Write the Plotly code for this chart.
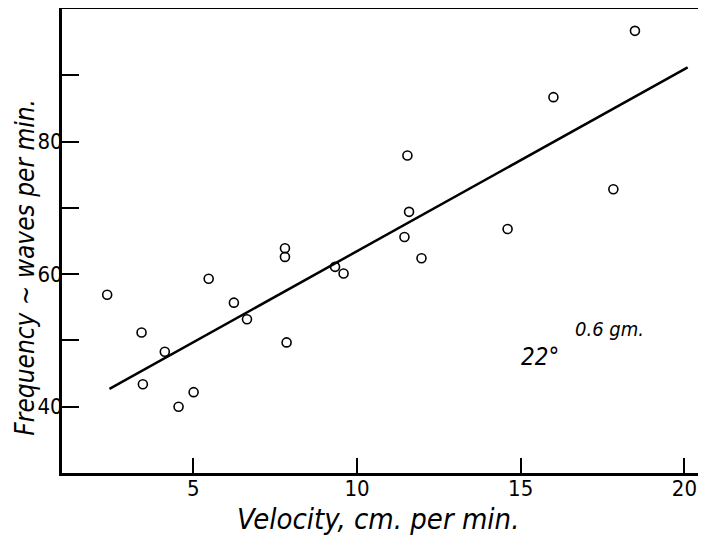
import plotly.graph_objects as go

# Observed points (velocity cm/min, frequency waves/min)
velocity = [2.37, 3.42, 3.46, 4.13, 4.55, 5.01, 5.47, 6.24, 6.64, 7.80, 7.80, 7.85,
            9.33, 9.59, 11.45, 11.54, 11.59, 11.97, 14.60, 16.0, 17.83, 18.49]
frequency = [56.9, 51.2, 43.4, 48.3, 40.0, 42.2, 59.3, 55.7, 53.2, 63.9, 62.6, 49.7,
             61.1, 60.1, 65.6, 77.9, 69.4, 62.4, 66.8, 86.7, 72.8, 96.7]

# Fitted line endpoints
fit_x = [2.44, 20.1]
fit_y = [42.7, 91.2]

x_ticks = [5, 10, 15, 20]
y_ticks = [40, 50, 60, 70, 80, 90]
y_tick_text = ["40", "", "60", "", "80", ""]

FONT = "DejaVu Sans Condensed, Liberation Sans Narrow, DejaVu Sans, sans-serif"

fig = go.Figure()
fig.add_trace(go.Scatter(x=fit_x, y=fit_y, mode="lines",
                         line=dict(color="black", width=2.5), showlegend=False))
fig.add_trace(go.Scatter(x=velocity, y=frequency, mode="markers",
                         marker=dict(symbol="circle-open", size=9, color="black",
                                     line=dict(width=1.6, color="black")),
                         showlegend=False))

fig.add_annotation(x=15.6, y=47.5, text="<i>22°</i>", showarrow=False,
                   font=dict(family=FONT, size=24, color="black"))
fig.add_annotation(x=17.7, y=51.7, text="<i>0.6 gm.</i>", showarrow=False,
                   font=dict(family=FONT, size=20, color="black"))

# Axis titles placed as annotations
fig.add_annotation(x=0.4907, y=-0.099, xref="paper", yref="paper",
                   xanchor="center", yanchor="middle",
                   text="<i>Velocity, cm. per min.</i>", showarrow=False,
                   font=dict(family=FONT, size=29, color="black"))
fig.add_annotation(x=-0.058, y=0.444, xref="paper", yref="paper", textangle=-90,
                   xanchor="center", yanchor="middle",
                   text="<i>Frequency ~ waves per min.</i>", showarrow=False,
                   font=dict(family=FONT, size=26, color="black"))

# Page body has an 8px default margin; size/offset the figure to compensate
fig.update_layout(
    width=698, height=531,
    margin=dict(l=54, r=0, t=1, b=66, autoexpand=False),
    plot_bgcolor="white", paper_bgcolor="white",
    xaxis=dict(range=[0.99, 20.66], tickvals=x_ticks, ticks="inside", ticklen=15,
               tickwidth=2, tickcolor="black", showgrid=False, zeroline=False,
               showline=True, linecolor="black", linewidth=3, mirror=True,
               automargin=False, ticklabelstandoff=-6,
               tickfont=dict(family=FONT, size=22, color="black")),
    yaxis=dict(range=[30, 100], tickvals=y_ticks, ticktext=y_tick_text,
               ticks="inside", ticklen=17, tickwidth=2, tickcolor="black",
               showgrid=False, zeroline=False, showline=True, linecolor="black",
               linewidth=3, mirror=False, automargin=False, ticklabelstandoff=-8,
               tickfont=dict(family=FONT, size=22, color="black")),
)

fig.write_html("out.html")
